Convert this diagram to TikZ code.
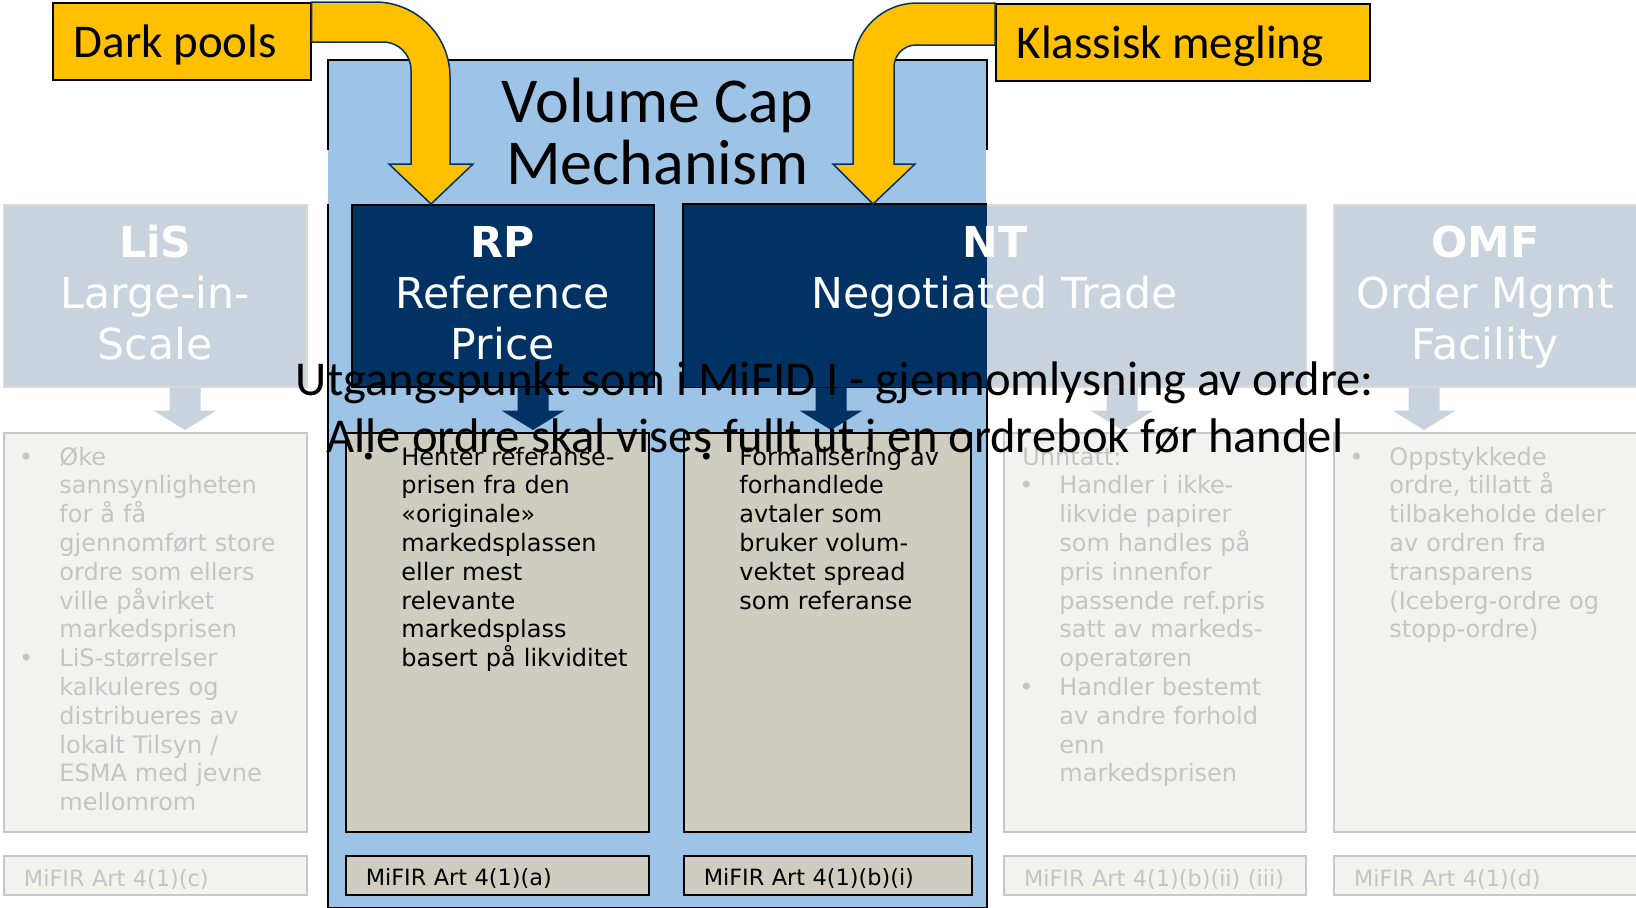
\documentclass[tikz,border=0pt]{standalone}
\usepackage{fontspec}
\setmainfont{DejaVu Sans}
\newfontfamily\calibri{Carlito}
\usetikzlibrary{calc}

\definecolor{capblue}{RGB}{157,195,230}
\definecolor{navy}{RGB}{0,50,100}
\definecolor{gold}{RGB}{255,192,0}
\definecolor{fadeblue}{RGB}{200,211,222}
\definecolor{fadeline}{RGB}{214,218,222}
\definecolor{paper}{RGB}{242,242,238}
\definecolor{paperline}{RGB}{200,200,200}
\definecolor{fadetext}{RGB}{196,196,196}
\definecolor{tan}{RGB}{207,205,192}

\newcommand{\bul}{\makebox[0pt][r]{\textbullet\hspace{13pt}}}
\newcommand{\calspace}{\spaceskip=0.226em\relax}

\begin{document}
\begin{tikzpicture}[x=0.5pt,y=-0.5pt,
  fadebox/.style={draw=fadeline,fill=fadeblue,line width=0.75pt,anchor=north west,inner sep=0pt,minimum height=91pt},
  navybox/.style={draw=black,fill=navy,line width=0.75pt,anchor=north west,inner sep=0pt,minimum height=91pt},
  paperbox/.style={draw=paperline,fill=paper,line width=1pt,anchor=north west,inner sep=0pt,minimum height=199.5pt},
  tanbox/.style={draw=black,fill=tan,line width=0.75pt,anchor=north west,inner sep=0pt,minimum height=199.5pt},
  footer/.style={anchor=north west,minimum height=19.5pt,inner xsep=10pt,inner ysep=0pt,align=left,
    text height=10.5pt,text depth=0pt,font={\fontsize{11.2}{13}\selectfont}},
  fadefoot/.style={footer,draw=paperline,fill=paper,line width=1pt,text=fadetext},
  tanfoot/.style={footer,draw=black,fill=tan,line width=0.75pt},
  headtext/.style={anchor=base,text=white,align=center,text width=300pt,inner sep=0pt,font={\fontsize{21.3}{25.5}\selectfont}},
  bodytext/.style={anchor=base west,align=left,text width=140pt,inner sep=0pt,font={\fontsize{12}{14.4}\selectfont}},
  goldbox/.style={draw=black,fill=gold,line width=0.75pt,anchor=north west,minimum height=38.5pt,inner xsep=10.5pt,
    text depth=0pt,align=left,font={\calibri\fontsize{23.5}{28}\selectfont}},
  goldarrow/.style={fill=gold,draw=navy,line width=0.75pt}]
\useasboundingbox (0,0) rectangle (1636,907);

% volume cap frame
\node[fill=capblue,anchor=north west,minimum width=329pt,minimum height=423.5pt,inner sep=0pt] (cap) at (328,60) {};
\draw[line width=0.75pt] (cap.west |- 0,150) -- (cap.north west) -- (cap.north east) -- (cap.east |- 0,150);
\draw[line width=0.75pt] (cap.west |- 0,204) -- (cap.south west) -- (cap.south east) -- (cap.east |- 0,204);
\node[anchor=base,align=center,text width=300pt,inner sep=0pt,font={\calibri\fontsize{32}{31}\selectfont}] (captitle)
  at ($(cap.north)+(0,62)$) {\calspace Volume Cap\\Mechanism};

% title boxes
\node[fadebox,minimum width=151.5pt] (lis) at (3,204) {};
\node[navybox,minimum width=151pt] (rp) at (351,204) {};
\node[fadebox,minimum width=311pt] (nt) at (683,204) {};
\fill[navy] (nt.north west) rectangle (cap.east |- nt.south);
\draw[line width=0.75pt] (cap.east |- nt.north) -- (nt.north west) -- (nt.south west) -- (cap.east |- nt.south);
\node[fadebox,minimum width=151.5pt] (omf) at (1333,204) {};

\node[headtext] (listitle) at ($(lis.north)+(0,53)$) {\textbf{LiS}\\Large-in-\\Scale};
\node[headtext] (rptitle) at ($(rp.north)+(0,53)$) {\textbf{RP}\\Reference\\Price};
\node[headtext] (nttitle) at ($(nt.north)+(0,53)$) {\textbf{NT}\\Negotiated Trade};
\node[headtext] (omftitle) at ($(omf.north)+(0,53)$) {\textbf{OMF}\\Order Mgmt\\Facility};

% content boxes
\node[paperbox,minimum width=151.5pt] (lisc) at (3,432) {};
\node[tanbox,minimum width=151.5pt] (rpc) at (345,432) {};
\node[tanbox,minimum width=143.5pt] (ntc) at (683,432) {};
\node[paperbox,minimum width=151pt] (ntxc) at (1003,432) {};
\node[paperbox,minimum width=151.5pt] (omfc) at (1333,432) {};

\node[bodytext,text=fadetext] (listext) at ($(lisc.north west)+(56,33)$) {\bul Øke\\
  sannsynligheten\\for å få\\gjennomført store\\ordre som ellers\\ville påvirket\\markedsprisen\\
  \bul LiS-størrelser\\kalkuleres og\\distribueres av\\lokalt Tilsyn /\\ESMA med jevne\\mellomrom};
\node[bodytext] (rptext) at ($(rpc.north west)+(56,33)$) {\bul Henter referanse-\\
  prisen fra den\\«originale»\\markedsplassen\\eller mest\\relevante\\markedsplass\\basert på likviditet};
\node[bodytext] (nttext) at ($(ntc.north west)+(56,33)$) {\bul Formalisering av\\
  forhandlede\\avtaler som\\bruker volum-\\vektet spread\\som referanse};
\node[bodytext,text=fadetext] (ntxtext) at ($(ntxc.north west)+(56,33)$) {\hspace*{-18.5pt}Unntatt:\\
  \bul Handler i ikke-\\likvide papirer\\som handles på\\pris innenfor\\passende ref.pris\\satt av markeds-\\operatøren\\
  \bul Handler bestemt\\av andre forhold\\enn\\markedsprisen};
\node[bodytext,text=fadetext] (omftext) at ($(omfc.north west)+(56,33)$) {\bul Oppstykkede\\
  ordre, tillatt å\\tilbakeholde deler\\av ordren fra\\transparens\\(Iceberg-ordre og\\stopp-ordre)};

% down arrows
\foreach \from/\to/\ax/\col in {lis/lisc/185/fadeblue,rp/rpc/533/navy,nt/ntc/831/navy,nt/ntxc/1122/fadeblue,omf/omfc/1424/fadeblue}{
  \coordinate (top) at (\ax,0 |- \from.south);
  \coordinate (tip) at (\ax,0 |- \to.north);
  \fill[\col] ($(top)+(-15.5,0)$) -- ($(top)+(15.5,0)$) -- ($(top)+(15.5,23)$) -- ($(top)+(31.5,23)$)
    -- ($(tip)+(0,-2)$) -- ($(top)+(-31.5,23)$) -- ($(top)+(-15.5,23)$) -- cycle;
}

% footers
\node[fadefoot,text width=131.5pt] (lisf) at (3,855) {MiFIR Art 4(1)(c)};
\node[tanfoot,text width=131.5pt] (rpf) at (345,855) {MiFIR Art 4(1)(a)};
\node[tanfoot,text width=124pt] (ntf) at (683,855) {MiFIR Art 4(1)(b)(i)};
\node[fadefoot,text width=131pt] (ntxf) at (1003,855) {MiFIR Art 4(1)(b)(ii) (iii)};
\node[fadefoot,text width=131.5pt] (omff) at (1333,855) {MiFIR Art 4(1)(d)};

% yellow sources
\node[goldbox,text width=108pt] (dark) at (52,2) {\calspace Dark pools};
\node[goldbox,text width=166pt] (klassisk) at (995,3) {\calspace Klassisk megling};
\draw[goldarrow] (dark.north east) -- (375,2) .. controls (416.4,2) and (450,35.6) .. (450,77) -- (450,164) -- (473,164)
  -- (rp.north -| 431,0) -- (389,164) -- (411,164) -- (411,70) .. controls (411,54.5) and (398.5,42) .. (383,42)
  -- (dark.east |- 0,42) -- cycle;
\draw[goldarrow] (klassisk.north west) -- (917,3) .. controls (881.7,3) and (853,31.7) .. (853,67) -- (853,164) -- (833,164)
  -- (nt.north -| 873,0) -- (915,164) -- (894,164) -- (894,67) .. controls (894,54.9) and (903.9,45) .. (916,45)
  -- (klassisk.west |- 0,45) -- cycle;

% overlay note
\node[anchor=base,align=center,text width=560pt,inner sep=0pt,font={\calibri\fontsize{24.3}{28.5}\selectfont}] (note) at (835,395)
  {\calspace Utgangspunkt som i MiFID I - gjennomlysning av ordre:\\Alle ordre skal vises fullt ut i en ordrebok før handel};
\end{tikzpicture}
\end{document}
